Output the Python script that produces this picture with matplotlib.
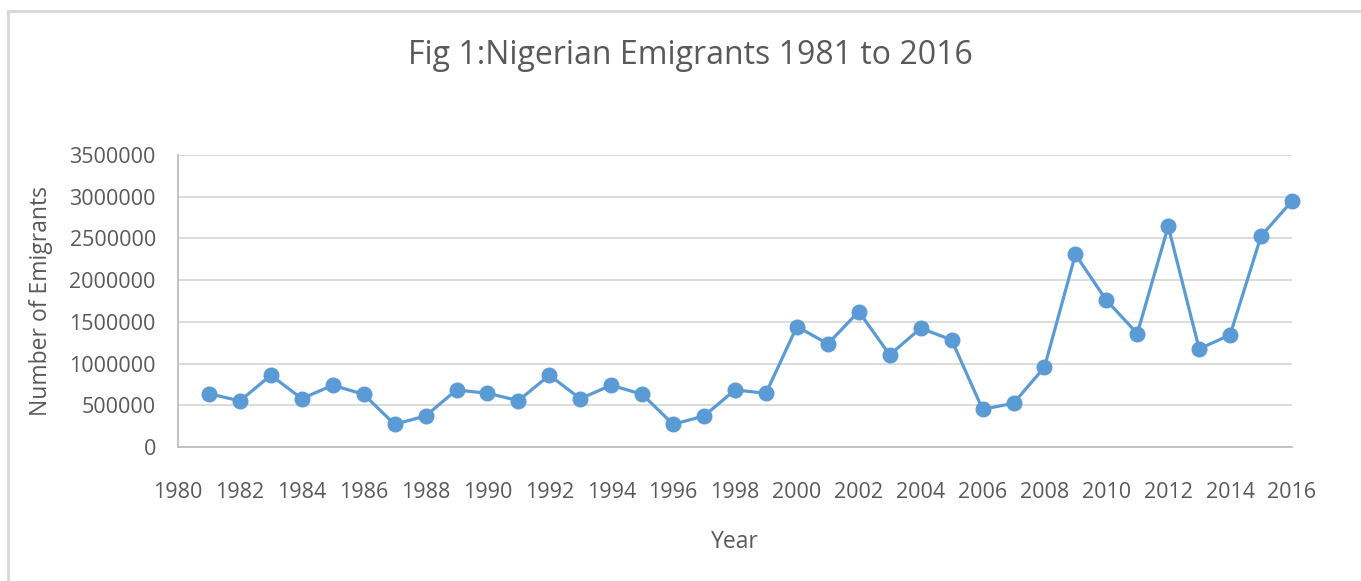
import matplotlib.pyplot as plt
from matplotlib.lines import Line2D

# Data
years = list(range(1981, 2017))
emigrants = [640000, 552000, 860000, 580000, 740000, 632000, 272000, 372000,
             684000, 644000, 556000, 860000, 580000, 740000, 632000, 272000,
             372000, 684000, 644000, 1444000, 1236000, 1624000, 1104000,
             1424000, 1284000, 452000, 524000, 956000, 2308000, 1760000,
             1360000, 2644000, 1176000, 1344000, 2528000, 2948000]
x_ticks = list(range(1980, 2017, 2))
y_ticks = list(range(0, 3500001, 500000))

plt.rcParams['font.family'] = ['Open Sans', 'DejaVu Sans']
text_color = '#595959'
line_color = '#5B9BD5'
grid_color = '#D9D9D9'

W, H = 1361, 581
fig = plt.figure(figsize=(W / 100, H / 100), dpi=100)
ax = fig.add_axes([178 / W, 1 - 447 / H, (1292 - 178) / W, (447 - 155) / H])

ax.plot(years, emigrants, color=line_color, linewidth=2.3,
        marker='o', markersize=10.5, zorder=3, clip_on=False)

ax.set_xlim(1980, 2016)
ax.set_ylim(0, 3500000)
ax.set_xticks(x_ticks)
ax.set_yticks(y_ticks)
ax.set_yticklabels([str(v) for v in y_ticks])
ax.tick_params(axis='both', length=0, labelsize=15.5, colors=text_color)
ax.tick_params(axis='x', pad=25)
ax.tick_params(axis='y', pad=16)

ax.grid(axis='y', color=grid_color, linewidth=1.3)
ax.set_axisbelow(True)
for side in ['top', 'right']:
    ax.spines[side].set_visible(False)
for side in ['left', 'bottom']:
    ax.spines[side].set_color('#BFBFBF')
    ax.spines[side].set_linewidth(1.3)

ax.set_xlabel('Year', fontsize=16.5, color=text_color, labelpad=20)
ax.set_ylabel('Number of Emigrants', fontsize=16.5, color=text_color, labelpad=12)

fig.text(0.507, 1 - 55 / H, 'Fig 1:Nigerian Emigrants 1981 to 2016',
         ha='center', va='center', fontsize=23, color=text_color)

# light chart border (top and left edges visible in the reference)
fig.add_artist(Line2D([8 / W, 1], [1 - 11 / H, 1 - 11 / H],
                      color=grid_color, linewidth=2.2))
fig.add_artist(Line2D([8 / W, 8 / W], [0, 1 - 11 / H],
                      color=grid_color, linewidth=2.2))

fig.savefig('out.png', dpi=100, facecolor='white')
